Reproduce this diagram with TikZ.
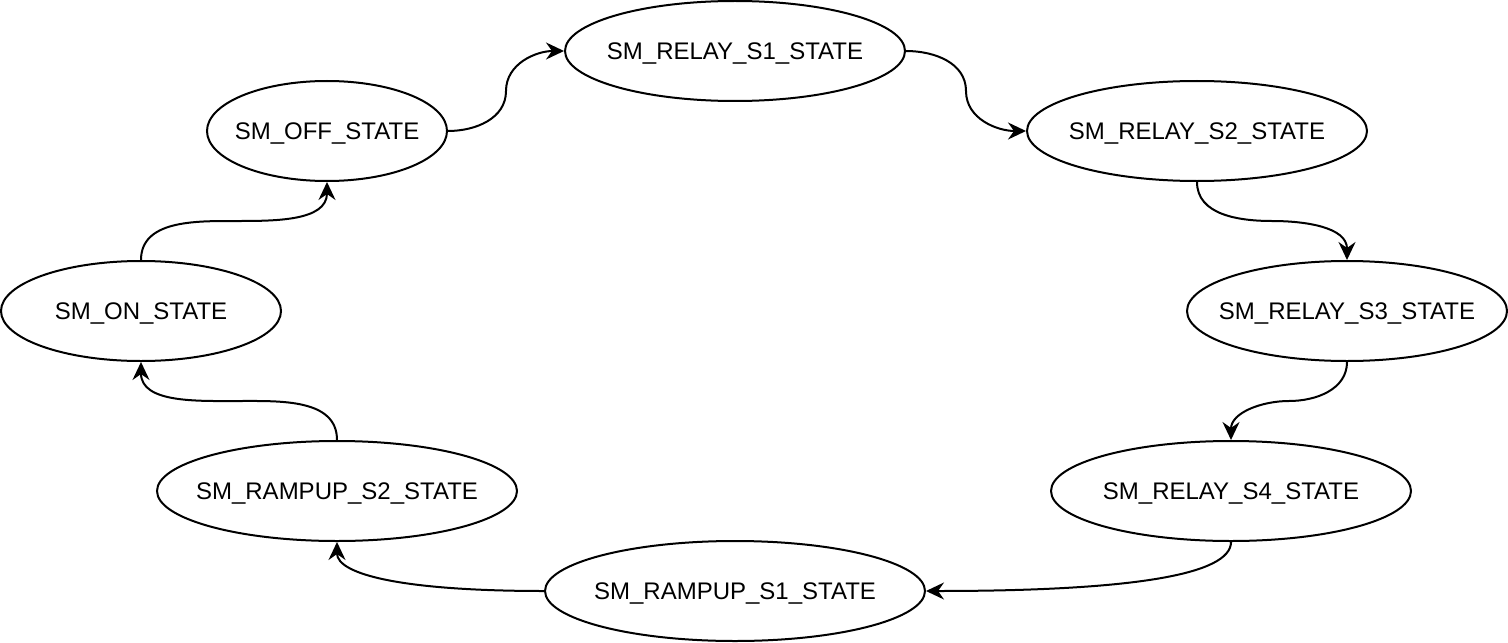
\documentclass[tikz,border=0pt]{standalone}
\usepackage{fontspec}
\setmainfont{Liberation Sans}
\usetikzlibrary{shapes.geometric,arrows.meta,calc}
\newcommand{\smname}[1]{\makebox[0pt]{#1}}
\begin{document}
\begin{tikzpicture}[x=.5pt, y=.5pt,
  every node/.style={font=\fontsize{12pt}{14pt}\selectfont},
  state/.style={ellipse, draw, line width=1pt, inner sep=0pt, text depth=0pt, minimum height=50pt},
  trans/.style={line width=1pt, -{Stealth[length=9pt, width=8.5pt, inset=3pt]}}]
  \useasboundingbox (0,0) rectangle (1508,-642);
  \node[state, minimum width=170pt] (s1)  at (735,-51)   {\smname{SM\_RELAY\_S1\_STATE}};
  \node[state, minimum width=120pt] (off) at (327,-131)  {\smname{SM\_OFF\_STATE}};
  \node[state, minimum width=170pt] (s2)  at (1197,-131) {\smname{SM\_RELAY\_S2\_STATE}};
  \node[state, minimum width=140pt] (on)  at (141,-311)  {\smname{SM\_ON\_STATE}};
  \node[state, minimum width=160pt] (s3)  at (1347,-311) {\smname{SM\_RELAY\_S3\_STATE}};
  \node[state, minimum width=180pt] (r2)  at (337,-491)  {\smname{SM\_RAMPUP\_S2\_STATE}};
  \node[state, minimum width=180pt] (s4)  at (1231,-491) {\smname{SM\_RELAY\_S4\_STATE}};
  \node[state, minimum width=190pt] (r1)  at (735,-591)  {\smname{SM\_RAMPUP\_S1\_STATE}};
  % transitions round the ring
  \draw[trans] (off.east) to[out=0,in=-90] ($(off.east)!.5!(s1.west)$) to[out=90,in=180] (s1.west);
  \draw[trans] (s1.east) to[out=0,in=90] ($(s1.east)!.5!(s2.west)$) to[out=-90,in=180] (s2.west);
  \draw[trans] (s2.south) to[out=-90,in=180] ($(s2.south)!.5!(s3.north)$) to[out=0,in=90] (s3.north);
  \draw[trans] (s3.south) to[out=-90,in=0] ($(s3.south)!.5!(s4.north)$) to[out=180,in=90] (s4.north);
  \draw[trans] (s4.south) .. controls +(0,-33) and +(204,0) .. (r1.east);
  \draw[trans] (r1.west) .. controls +(-139,0) and +(0,-33) .. (r2.south);
  \draw[trans] (r2.north) to[out=90,in=0] ($(r2.north)!.5!(on.south)$) to[out=180,in=-90] (on.south);
  \draw[trans] (on.north) to[out=90,in=180] ($(on.north)!.5!(off.south)$) to[out=0,in=-90] (off.south);
\end{tikzpicture}
\end{document}
